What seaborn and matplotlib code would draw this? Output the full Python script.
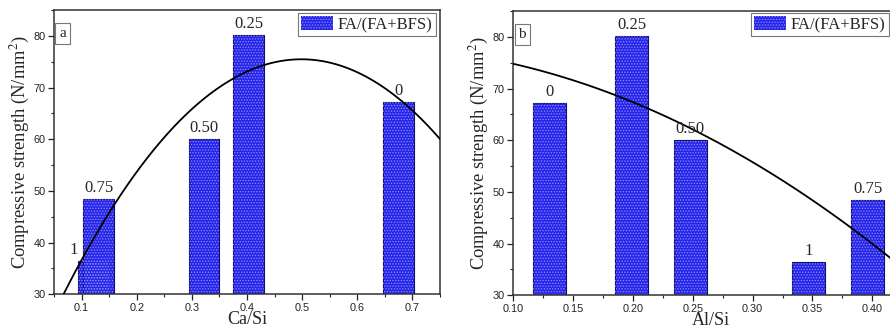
import matplotlib
matplotlib.use("Agg")
import matplotlib.pyplot as plt
import numpy as np
import seaborn as sns
from matplotlib.patches import Patch
from matplotlib.ticker import MultipleLocator

# panel a: Ca/Si
ca_si = [0.122, 0.131, 0.322, 0.403, 0.674]
strength_a = [36.5, 48.5, 60.0, 80.1, 67.2]
labels_a = ["1", "0.75", "0.50", "0.25", "0"]

# panel b: Al/Si
al_si = [0.130, 0.199, 0.248, 0.347, 0.396]
strength_b = [67.2, 80.1, 60.0, 36.5, 48.5]
labels_b = ["0", "0.25", "0.50", "1", "0.75"]

legend_label = "FA/(FA+BFS)"
ylabel = "Compressive strength (N/mm$^{2}$)"

sns.set_theme(style="ticks")
plt.rcParams["font.family"] = ["Liberation Sans", "DejaVu Sans"]
plt.rcParams["mathtext.fontset"] = "stix"
plt.rcParams["hatch.linewidth"] = 0.6
serif = ["Liberation Serif", "DejaVu Serif"]

BAR = "#2626e8"
DOTS = "#8a8aff"
EDGE = "#10106a"


def draw_panel(ax, x, y, labels, width, xlim, xmajor, xlabel, tag, fmt, legend_anchor, hidden=()):
    ax.set_xlim(*xlim)
    ax.set_ylim(30, 85)
    ax.bar(x, np.array(y) - 30, width=width, bottom=30, color=BAR, edgecolor=EDGE, linewidth=0.8, zorder=2)
    ax.bar(x, np.array(y) - 30, width=width, bottom=30, facecolor="none", edgecolor=DOTS,
           hatch="......", linewidth=0, zorder=2.1)
    for i, (xi, yi, lab) in enumerate(zip(x, y, labels)):
        if i in hidden:
            ax.text(xi - width / 2, yi + 0.6, lab, ha="right", va="bottom", fontsize=12, family=serif, zorder=4)
        else:
            ax.text(xi, yi + 0.6, lab, ha="center", va="bottom", fontsize=12, family=serif, zorder=4)
    sns.regplot(x=np.array(x), y=np.array(y), order=2, ci=None, scatter=False, truncate=False,
                color="black", line_kws={"lw": 1.3, "zorder": 3}, ax=ax)

    ax.xaxis.set_major_locator(MultipleLocator(xmajor))
    ax.xaxis.set_minor_locator(MultipleLocator(xmajor / 2))
    ax.yaxis.set_major_locator(MultipleLocator(10))
    ax.yaxis.set_minor_locator(MultipleLocator(5))
    ax.xaxis.set_major_formatter(plt.FormatStrFormatter(fmt))
    ax.tick_params(which="major", length=4, width=0.9, labelsize=7.8, pad=2, colors="#222222")
    ax.tick_params(which="minor", length=2.5, width=0.8, colors="#222222")
    ax.tick_params(top=False, right=False, which="both")
    for s in ax.spines.values():
        s.set_color("#333333")
        s.set_linewidth(1.1)
    ax.set_xlabel(xlabel, fontsize=13, family=serif, labelpad=-1)
    ax.set_ylabel(ylabel, fontsize=13.3, family=serif, labelpad=1)

    ax.text(0.013, 0.94, tag, transform=ax.transAxes, ha="left", va="top", fontsize=11, family=serif,
            bbox=dict(boxstyle="square,pad=0.25", fc="white", ec="#777777", lw=0.8), zorder=5)
    handle = Patch(facecolor=BAR, edgecolor=DOTS, hatch="......", linewidth=0)
    leg = ax.legend([handle], [legend_label], loc="upper right", bbox_to_anchor=legend_anchor,
                    bbox_transform=ax.figure.transFigure, prop={"family": serif, "size": 12},
                    frameon=True, fancybox=False, borderpad=0.2, borderaxespad=0, handlelength=1.9,
                    handleheight=0.9, handletextpad=0.3)
    leg.get_frame().set_edgecolor("#555555")
    leg.get_frame().set_linewidth(0.8)


fig = plt.figure(figsize=(8.9, 3.32), dpi=100)
ax_a = fig.add_axes([0.0607, 0.1135, 0.4337, 0.8564])
ax_b = fig.add_axes([0.5767, 0.1105, 0.4438, 0.8564])

draw_panel(ax_a, ca_si, strength_a, labels_a, 0.056, (0.05, 0.75), 0.1, "Ca/Si", "a", "%.1f",
           (436 / 890, 1 - 13 / 332), hidden=(0,))
draw_panel(ax_b, al_si, strength_b, labels_b, 0.0276, (0.10, 0.43), 0.05, "Al/Si", "b", "%.2f",
           (889 / 890, 1 - 13 / 332))

fig.savefig("out.png", dpi=100)
